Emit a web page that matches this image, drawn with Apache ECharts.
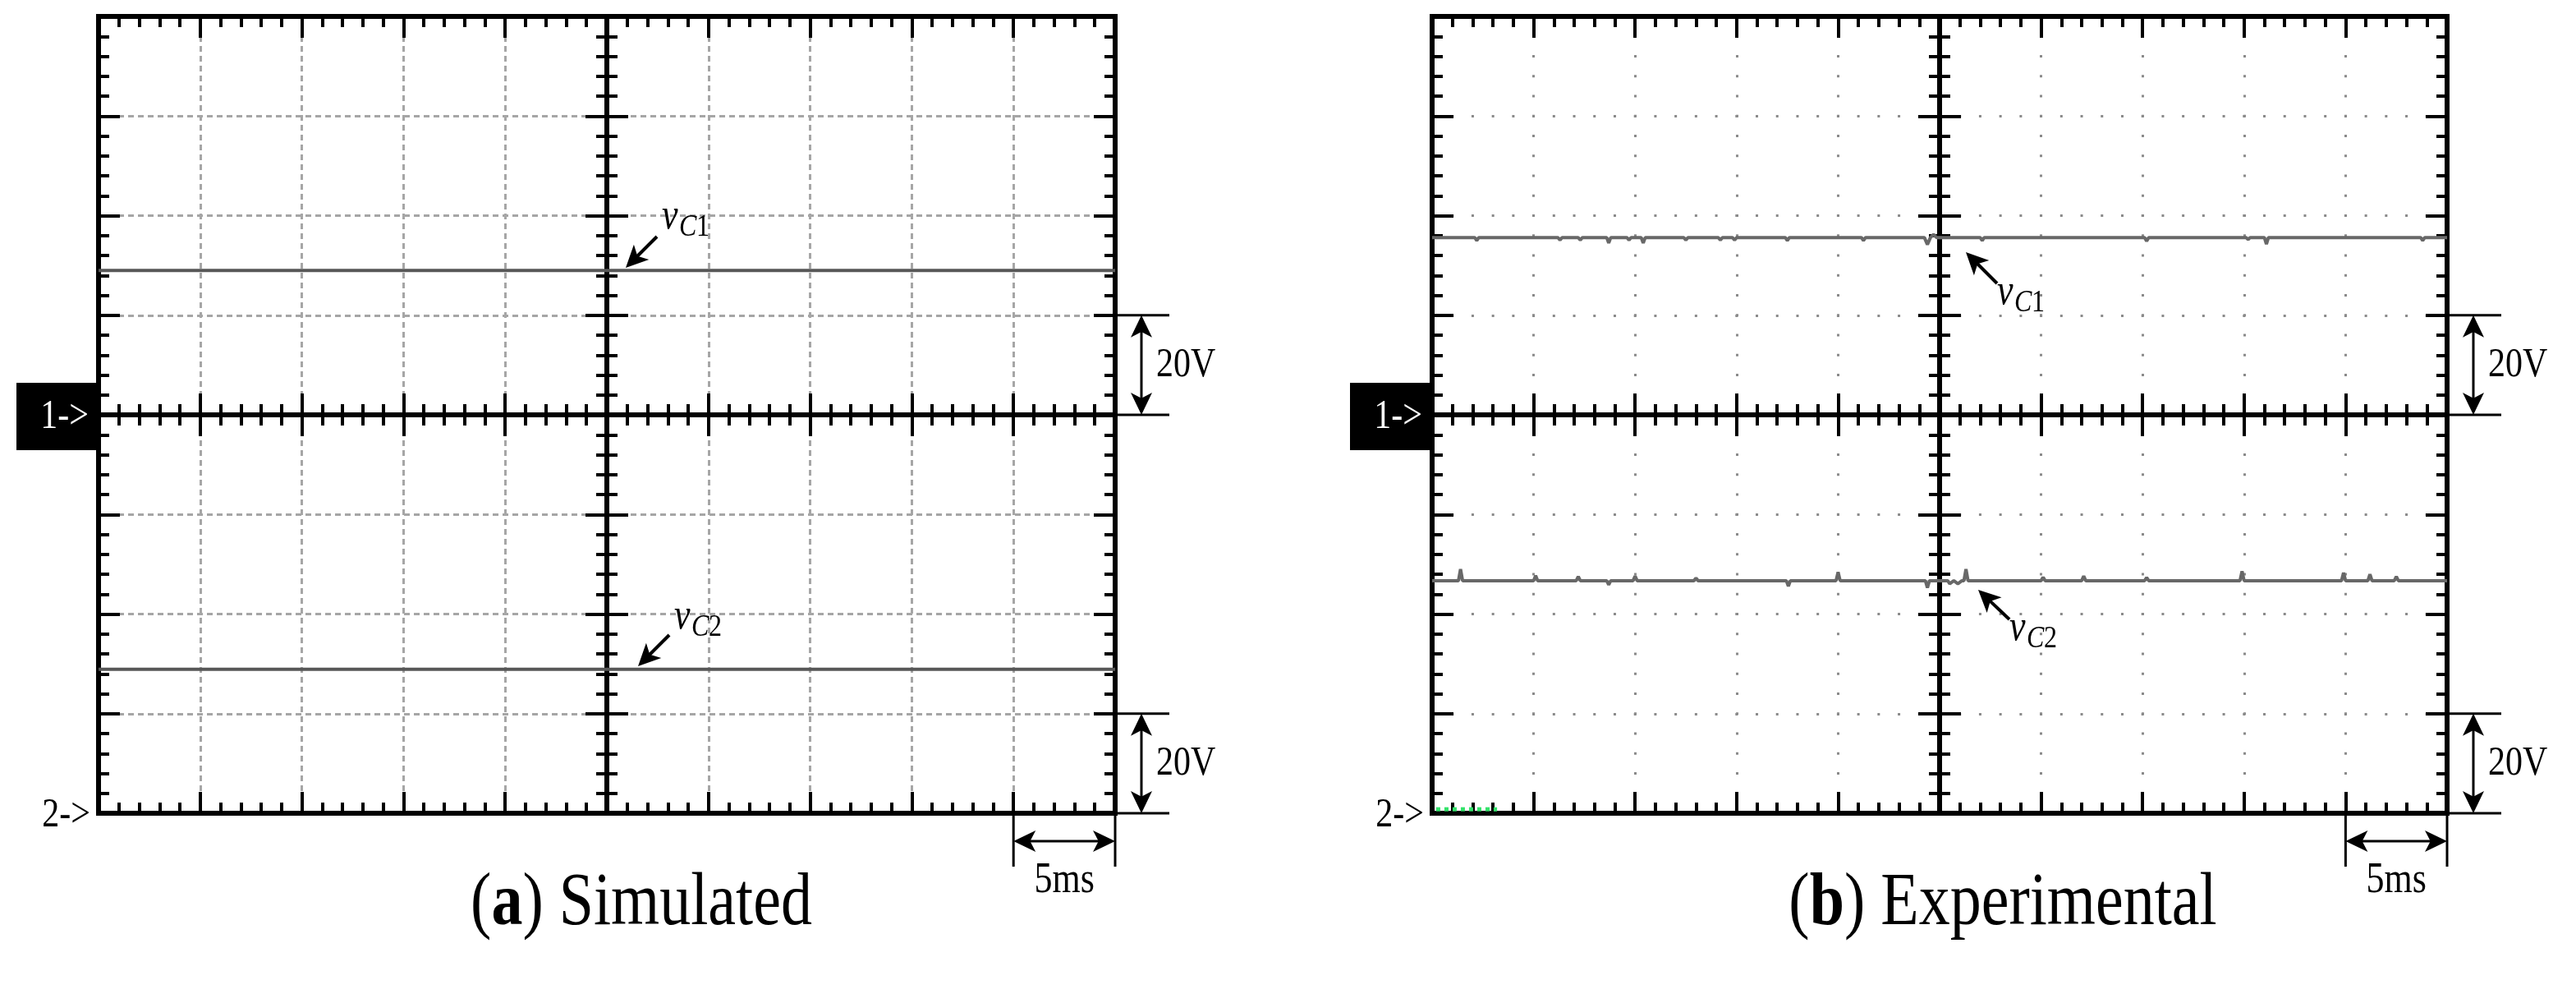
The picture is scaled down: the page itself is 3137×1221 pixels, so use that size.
<!DOCTYPE html>
<html>
<head>
<meta charset="utf-8">
<title>vC1 / vC2 simulated and experimental</title>
<script src="https://cdn.jsdelivr.net/npm/echarts@6/dist/echarts.min.js"></script>
<style>
  html, body { margin: 0; padding: 0; background: #fff; }
  #chart { width: 3137px; height: 1221px; }
</style>
</head>
<body>
<div id="chart"></div>
<script>
// time base: 5 ms/div, 10 divisions, trigger in the middle
var timeRange = [-25, 25];
var timeDiv = 5;
// both channels 20 V/div, 8 divisions; ch1 ground in the middle, ch2 ground at the bottom
var ch1Range = [-80, 80];
var ch2Range = [0, 160];
var voltDiv = 20;

// (a) simulated, flat traces
var simC1 = [[-25, 29.0], [25, 29.0]];
var simC2 = [[-25, 28.9], [25, 28.9]];

// (b) experimental (small glitches included)
var expC1 = [
  [-25, 35.6],
  [-22.9, 35.6], [-22.8, 35.0], [-22.7, 35.6],
  [-18.8, 35.6], [-18.7, 35.1], [-18.6, 35.6],
  [-17.8, 35.6], [-17.7, 35.1], [-17.6, 35.6],
  [-16.4, 35.6], [-16.3, 34.5], [-16.2, 35.6],
  [-15.4, 35.6], [-15.3, 35.1], [-15.2, 35.6],
  [-14.7, 35.6], [-14.6, 34.5], [-14.5, 35.6],
  [-12.6, 35.6], [-12.5, 35.1], [-12.4, 35.6],
  [-10.9, 35.6], [-10.8, 35.1], [-10.7, 35.6],
  [-10.2, 35.6], [-10.1, 35.1], [-10.0, 35.6],
  [-7.6, 35.6], [-7.5, 35.0], [-7.4, 35.6],
  [-3.85, 35.6], [-3.75, 35.0], [-3.65, 35.6],
  [-0.75, 35.6], [-0.6, 34.2], [-0.45, 35.6], [-0.3, 36.2], [-0.15, 35.6],
  [2.0, 35.6], [2.1, 35.0], [2.2, 35.6],
  [10.1, 35.6], [10.2, 34.9], [10.3, 35.6],
  [15.1, 35.6], [15.2, 35.2], [15.3, 35.6],
  [16.0, 35.6], [16.1, 34.3], [16.2, 35.6],
  [23.7, 35.6], [23.8, 35.0], [23.9, 35.6],
  [25, 35.6]
];
var expC2 = [
  [-25, 46.7],
  [-23.7, 46.7], [-23.6, 49.0], [-23.5, 46.7],
  [-20.0, 46.7], [-19.9, 47.7], [-19.8, 46.7],
  [-17.9, 46.7], [-17.8, 47.5], [-17.7, 46.7],
  [-16.4, 46.7], [-16.3, 45.9], [-16.2, 46.7],
  [-15.1, 46.7], [-15.0, 47.6], [-14.9, 46.7],
  [-12.1, 46.7], [-12.0, 47.2], [-11.9, 46.7],
  [-7.55, 46.7], [-7.45, 45.6], [-7.35, 46.7],
  [-5.1, 46.7], [-5.0, 48.4], [-4.9, 46.7],
  [-0.7, 46.7], [-0.6, 45.3], [-0.5, 46.7],
  [0.4, 46.7], [0.5, 46.1], [0.7, 46.7], [0.9, 46.1], [1.1, 46.7],
  [1.2, 46.7], [1.3, 49.0], [1.4, 46.7],
  [5.0, 46.7], [5.1, 47.4], [5.2, 46.7],
  [7.0, 46.7], [7.1, 47.6], [7.2, 46.7],
  [10.1, 46.7], [10.2, 47.3], [10.3, 46.7],
  [14.8, 46.7], [14.9, 48.6], [15.0, 46.7],
  [19.8, 46.7], [19.9, 48.3], [20.0, 46.7],
  [21.1, 46.7], [21.2, 48.0], [21.3, 46.7],
  [22.4, 46.7], [22.5, 47.5], [22.6, 46.7],
  [25, 46.7]
];
// stray green trace at the bottom left of the capture
var expGreen = [[-24.8, 0.8], [-21.8, 0.8]];

var captions = ['({b|a}) Simulated', '({b|b}) Experimental'];

var plotTop = 20;
var plotHeight = 970;
var panels = [
  { left: 120, width: 1238, grid: 'dashed', captionX: 781 },
  { left: 1744, width: 1236, grid: 'dotted', captionX: 2439 }
];
var serif = 'Liberation Serif';

var valueAxis = function (gridIndex, range, interval, extra) {
  return Object.assign({
    type: 'value',
    gridIndex: gridIndex,
    min: range[0],
    max: range[1],
    interval: interval,
    silent: true,
    axisLabel: { show: false },
    splitLine: { show: false },
    axisTick: { show: false },
    minorTick: { show: false },
    axisLine: { show: false, onZero: false }
  }, extra);
};

var heavyLine = function (onZeroIndex) {
  var line = { show: true, onZero: false, lineStyle: { color: '#000', width: 6 } };
  if (onZeroIndex != null) {
    line.onZero = true;
    line.onZeroAxisIndex = onZeroIndex;
  }
  return line;
};

var ticks = function (inside) {
  return {
    axisTick: { show: true, inside: inside, length: 26, lineStyle: { color: '#000', width: 4 } },
    minorTick: { show: true, splitNumber: 5, length: 13, lineStyle: { color: '#000', width: 4 } }
  };
};

var graticule = function (panel, vertical) {
  if (panel.grid === 'dashed') {
    return { show: true, lineStyle: { color: '#a6a6a6', width: 3, type: [7, 5] } };
  }
  // dots every 0.2 div along each division line
  var step = vertical ? plotHeight / 40 : panel.width / 50;
  return { show: true, lineStyle: { color: '#8a8a8a', width: 3, type: [3, step - 3], dashOffset: 1.5 } };
};

var grids = [];
var xAxes = [];
var yAxes = [];
var series = [];

panels.forEach(function (p, i) {
  grids.push({
    left: p.left, top: plotTop, width: p.width, height: plotHeight,
    show: true, borderColor: '#000', borderWidth: 6, outerBoundsMode: 'none'
  });
  var xBase = xAxes.length;
  var yBase = yAxes.length;

  // bottom and top edges
  xAxes.push(valueAxis(i, timeRange, timeDiv, Object.assign({
    position: 'bottom', axisLine: heavyLine(), splitLine: graticule(p, true)
  }, ticks(true))));
  xAxes.push(valueAxis(i, timeRange, timeDiv, Object.assign({
    position: 'top', axisLine: heavyLine()
  }, ticks(true))));
  // horizontal centre line, ticks on both sides
  xAxes.push(valueAxis(i, timeRange, timeDiv, Object.assign({
    position: 'bottom', axisLine: heavyLine(yBase)
  }, ticks(true))));
  xAxes.push(valueAxis(i, timeRange, timeDiv, Object.assign({
    position: 'bottom', axisLine: heavyLine(yBase)
  }, ticks(false))));

  // ch1 axis on the left edge
  yAxes.push(valueAxis(i, ch1Range, voltDiv, Object.assign({
    position: 'left', axisLine: heavyLine(), splitLine: graticule(p, false)
  }, ticks(true))));
  // ch2 axis, only for scaling
  yAxes.push(valueAxis(i, ch2Range, voltDiv, { show: false }));
  // right edge
  yAxes.push(valueAxis(i, ch1Range, voltDiv, Object.assign({
    position: 'right', axisLine: heavyLine()
  }, ticks(true))));
  // vertical centre line
  yAxes.push(valueAxis(i, ch1Range, voltDiv, Object.assign({
    position: 'left', axisLine: heavyLine(xBase)
  }, ticks(true))));
  yAxes.push(valueAxis(i, ch1Range, voltDiv, Object.assign({
    position: 'left', axisLine: heavyLine(xBase)
  }, ticks(false))));

  var c1 = i === 0 ? simC1 : expC1;
  var c2 = i === 0 ? simC2 : expC2;
  var col = i === 0 ? '#575757' : '#686868';
  series.push({
    name: 'vC1', type: 'line', xAxisIndex: xBase, yAxisIndex: yBase, data: c1,
    showSymbol: false, z: 3, lineStyle: { color: col, width: 4 }
  });
  series.push({
    name: 'vC2', type: 'line', xAxisIndex: xBase, yAxisIndex: yBase + 1, data: c2,
    showSymbol: false, z: 3, lineStyle: { color: col, width: 4 }
  });
  if (i === 1) {
    series.push({
      name: 'ch', type: 'line', xAxisIndex: xBase, yAxisIndex: yBase + 1, data: expGreen,
      showSymbol: false, z: 1, lineStyle: { color: '#33e36a', width: 5, type: [5, 5] }
    });
  }
});

// ---- annotations ----
var Z = 100;
var text = function (x, y, str, size, style) {
  return {
    type: 'text', x: x, y: y, scaleY: 1.2, z: Z, silent: true,
    style: Object.assign({
      text: str, fontFamily: serif, fontSize: size, fill: '#000',
      align: 'left', verticalAlign: 'middle'
    }, style || {})
  };
};
var seg = function (x1, y1, x2, y2, w) {
  return { type: 'line', z: Z, silent: true, shape: { x1: x1, y1: y1, x2: x2, y2: y2 }, style: { stroke: '#000', lineWidth: w } };
};
var head = function (tip, from, len, half) {
  var dx = tip[0] - from[0], dy = tip[1] - from[1];
  var d = Math.sqrt(dx * dx + dy * dy);
  var ux = dx / d, uy = dy / d, nx = -uy, ny = ux;
  var bx = tip[0] - ux * len, by = tip[1] - uy * len;
  return {
    type: 'polygon', z: Z, silent: true,
    shape: { points: [[tip[0], tip[1]], [bx + nx * half, by + ny * half], [bx + ux * len * 0.25, by + uy * len * 0.25], [bx - nx * half, by - ny * half]] },
    style: { fill: '#000' }
  };
};
var arrow = function (from, tip) {
  var dx = tip[0] - from[0], dy = tip[1] - from[1];
  var d = Math.sqrt(dx * dx + dy * dy);
  return [seg(from[0], from[1], tip[0] - dx / d * 18, tip[1] - dy / d * 18, 4), head(tip, from, 27, 13)];
};
var doubleArrow = function (a, b) {
  var dx = b[0] - a[0], dy = b[1] - a[1];
  var d = Math.sqrt(dx * dx + dy * dy);
  return [
    seg(a[0] + dx / d * 18, a[1] + dy / d * 18, b[0] - dx / d * 18, b[1] - dy / d * 18, 3),
    head(a, b, 27, 13), head(b, a, 27, 13)
  ];
};
var subLabel = function (x, base, sub) {
  return [
    text(x, base - 0.41 * 44, 'v', 44, { fontStyle: 'italic' }),
    text(x + 21, base + 8 - 0.41 * 32, 'C', 32, { fontStyle: 'italic' }),
    text(x + 42, base + 8 - 0.41 * 32, sub, 32)
  ];
};

var graphics = [];
panels.forEach(function (p, i) {
  var right = p.left + p.width;
  var bottom = plotTop + plotHeight;
  var divX = p.width / 10;
  var divY = plotHeight / 8;
  var mid = plotTop + 4 * divY;

  // channel markers
  graphics.push({ type: 'rect', z: Z, silent: true, shape: { x: p.left - 100, y: mid - 39, width: 97, height: 82 }, style: { fill: '#000' } });
  graphics.push(text(p.left - 12, mid + 3, '1->', 42, { fill: '#fff', align: 'right' }));
  graphics.push(text(p.left - 10, bottom + 3, '2->', 42, { align: 'right' }));

  // 20 V scale marks
  [[mid - divY, mid], [bottom - divY, bottom]].forEach(function (r) {
    graphics.push(seg(right - 25, r[0], right + 66, r[0], 3));
    graphics.push(seg(right - 25, r[1], right + 66, r[1], 3));
    graphics = graphics.concat(doubleArrow([right + 32, r[0]], [right + 32, r[1]]));
    graphics.push(text(right + 50, (r[0] + r[1]) / 2, '20V', 42));
  });

  // 5 ms scale mark
  graphics.push(seg(right - divX, bottom, right - divX, bottom + 65, 3));
  graphics.push(seg(right, bottom, right, bottom + 65, 3));
  graphics = graphics.concat(doubleArrow([right - divX, bottom + 34], [right, bottom + 34]));
  graphics.push(text(right - divX / 2, bottom + 82, '5ms', 44, { align: 'center' }));

  // caption
  graphics.push(text(p.captionX, 1101, captions[i], 76, {
    align: 'center',
    rich: { b: { fontFamily: serif, fontSize: 76, fontWeight: 'bold' } }
  }));
});

// trace labels
graphics = graphics.concat(arrow([800, 288], [762, 326]), subLabel(806, 282, '1'));
graphics = graphics.concat(arrow([815, 773], [777, 811]), subLabel(821, 769, '2'));
graphics = graphics.concat(arrow([2432, 345], [2394, 307]), subLabel(2432, 374, '1'));
graphics = graphics.concat(arrow([2447, 754], [2409, 718]), subLabel(2447, 783, '2'));

var chart = echarts.init(document.getElementById('chart'), null, { renderer: 'canvas' });
chart.setOption({
  animation: false,
  backgroundColor: '#fff',
  grid: grids,
  xAxis: xAxes,
  yAxis: yAxes,
  series: series,
  graphic: graphics
});
</script>
</body>
</html>
